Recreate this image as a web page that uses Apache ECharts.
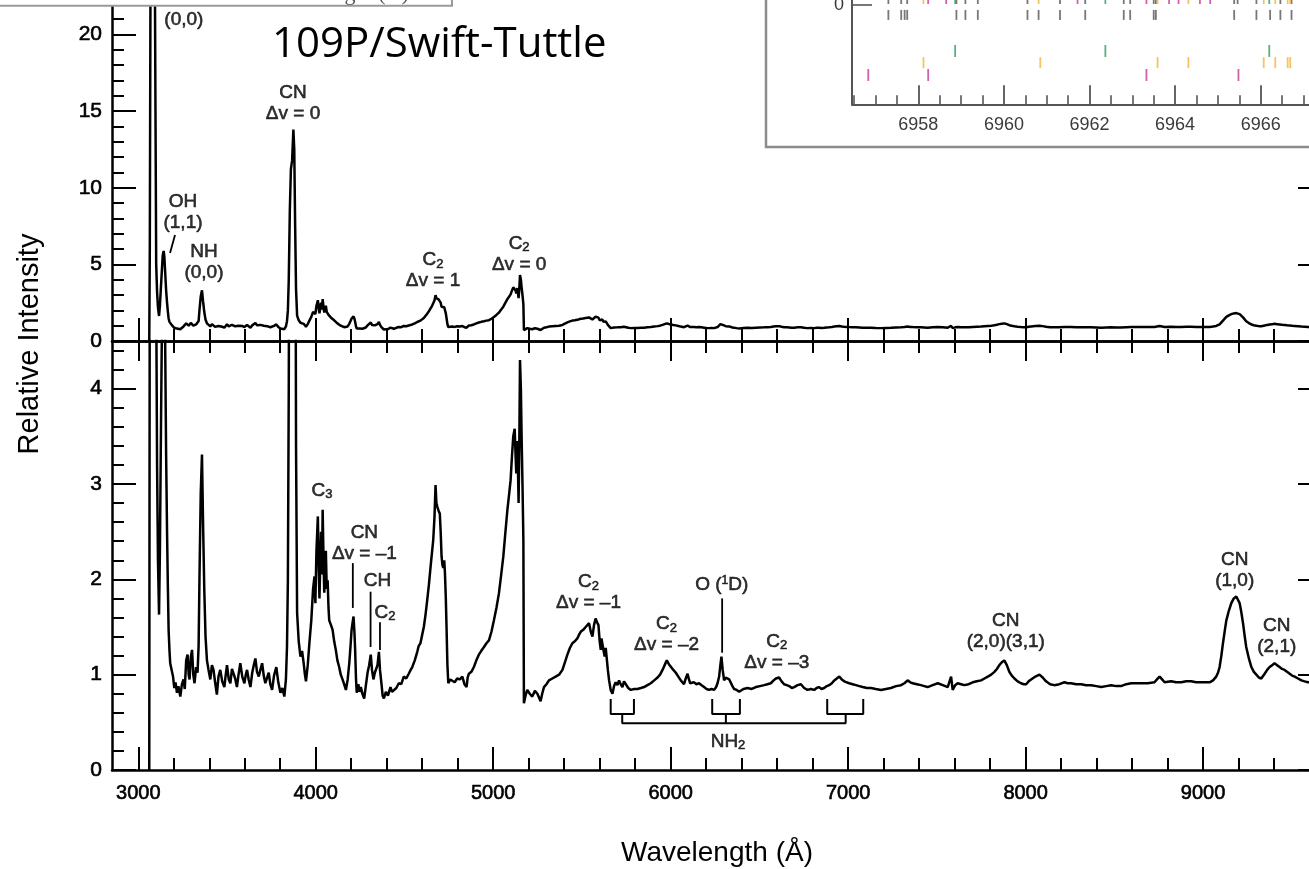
<!DOCTYPE html>
<html><head><meta charset="utf-8">
<script src="https://cdn.jsdelivr.net/npm/echarts@6/dist/echarts.min.js"></script>
<style>html,body{margin:0;padding:0;background:#fff}#c{width:1309px;height:869px}</style>
</head><body><div id="c"></div>
<script>
// ---------------- data ----------------
const spectrum = [[3062,0],[3065,6],[3069,24],[3076,33],[3084,30],[3092,28],[3097,15],[3101,5],[3106,3.2],[3111,2.2],[3117,1.63],[3122,2.3],[3128,3.6],[3133,4.6],[3138,5.6],[3143,5.87],[3147,5.5],[3152,4.4],[3157,3.3],[3162,2.52],[3167,1.9],[3171,1.47],[3176,1.25],[3180,1.12],[3188,1.05],[3196,0.98],[3203,0.86],[3210,0.92],[3218,0.81],[3226,0.88],[3237,0.77],[3246,0.9],[3255,0.95],[3262,0.85],[3270,1.15],[3278,1.21],[3284,1.0],[3289,0.95],[3296,1.18],[3303,1.26],[3310,1.0],[3317,0.91],[3326,1.08],[3334,1.02],[3340,1.3],[3345,2.03],[3352,2.9],[3359,3.31],[3365,2.6],[3372,1.89],[3379,1.4],[3387,1.15],[3396,1.05],[3406,0.95],[3415,1.1],[3424,1.05],[3433,0.92],[3443,0.79],[3452,0.98],[3462,1.05],[3473,0.93],[3485,0.87],[3493,1.0],[3500,1.1],[3510,0.95],[3519,0.91],[3528,1.06],[3537,1.08],[3546,0.96],[3556,0.87],[3565,1.0],[3575,1.12],[3586,0.98],[3598,0.91],[3606,1.0],[3613,1.05],[3622,0.95],[3632,0.87],[3642,1.02],[3651,1.1],[3660,1.17],[3669,1.03],[3679,0.98],[3688,1.05],[3698,1.12],[3707,0.99],[3716,0.91],[3726,0.97],[3735,1.02],[3744,0.9],[3754,0.84],[3765,0.99],[3778,1.08],[3789,0.92],[3801,0.81],[3812,0.86],[3823,0.77],[3832,0.95],[3838,1.29],[3843,1.98],[3848,4.0],[3854,8.5],[3860,11.2],[3867,11.8],[3874,13.8],[3879,12.5],[3884,7.5],[3889,3.4],[3895,1.65],[3904,1.35],[3914,1.19],[3923,1.25],[3932,1.12],[3939,1.0],[3945,0.93],[3955,1.1],[3965,1.35],[3975,1.57],[3985,1.9],[3993,2.03],[3998,1.75],[4004,2.3],[4012,2.66],[4017,2.1],[4021,1.8],[4026,2.2],[4030,2.5],[4035,2.05],[4039,2.73],[4044,2.2],[4048,1.86],[4053,2.05],[4057,2.3],[4062,1.9],[4067,1.99],[4072,1.7],[4076,1.57],[4086,1.52],[4095,1.47],[4104,1.35],[4113,1.26],[4122,1.15],[4132,1.08],[4141,1.0],[4151,0.95],[4160,0.9],[4170,0.84],[4180,0.95],[4189,1.12],[4196,1.3],[4202,1.47],[4208,1.55],[4213,1.61],[4218,1.45],[4222,1.26],[4227,0.95],[4231,0.81],[4240,0.9],[4247,0.82],[4254,0.87],[4263,0.8],[4273,0.75],[4282,0.88],[4292,1.02],[4301,1.1],[4310,1.21],[4317,1.05],[4325,0.95],[4333,1.02],[4340,1.0],[4348,1.1],[4356,1.24],[4362,1.05],[4370,0.91],[4377,0.78],[4384,0.75],[4395,0.82],[4407,0.78],[4421,0.87],[4430,0.82],[4440,0.8],[4454,0.86],[4468,0.91],[4482,0.9],[4496,0.98],[4510,0.96],[4524,1.01],[4535,1.05],[4544,1.08],[4558,1.15],[4572,1.24],[4580,1.3],[4590,1.33],[4600,1.42],[4609,1.5],[4618,1.62],[4628,1.78],[4638,1.95],[4647,2.13],[4655,2.28],[4662,2.41],[4669,2.65],[4675,2.99],[4680,2.8],[4685,2.76],[4692,2.72],[4699,2.69],[4704,2.5],[4709,2.24],[4714,2.15],[4719,2.12],[4724,2.2],[4728,2.07],[4733,1.8],[4737,1.5],[4742,1.1],[4747,0.91],[4758,0.95],[4769,0.94],[4783,0.92],[4797,0.96],[4812,0.95],[4826,0.98],[4838,0.9],[4850,0.87],[4856,0.97],[4863,1.01],[4877,1.03],[4891,1.08],[4905,1.15],[4919,1.21],[4933,1.25],[4948,1.29],[4962,1.33],[4976,1.36],[4990,1.45],[5004,1.57],[5018,1.7],[5032,1.85],[5045,2.05],[5057,2.24],[5069,2.5],[5080,2.73],[5090,2.9],[5098,3.04],[5106,3.3],[5113,3.5],[5121,3.58],[5126,3.3],[5130,3.11],[5136,3.45],[5140,3.1],[5143,2.8],[5147,3.4],[5151,4.3],[5156,4.0],[5160,3.5],[5165,3.0],[5170,2.41],[5173,0.7],[5182,0.78],[5192,0.84],[5206,0.8],[5220,0.77],[5235,0.83],[5249,0.8],[5258,0.76],[5267,0.72],[5276,0.8],[5286,0.87],[5300,0.9],[5314,0.94],[5333,0.96],[5352,0.98],[5371,1.0],[5390,1.05],[5404,1.13],[5418,1.21],[5432,1.28],[5446,1.33],[5460,1.35],[5474,1.38],[5484,1.42],[5493,1.45],[5507,1.47],[5521,1.5],[5530,1.48],[5540,1.54],[5550,1.45],[5559,1.4],[5568,1.52],[5577,1.59],[5585,1.55],[5593,1.52],[5600,1.35],[5606,1.26],[5610,1.38],[5615,1.4],[5622,1.25],[5628,1.19],[5634,1.28],[5640,1.26],[5646,1.05],[5653,0.94],[5662,0.84],[5672,0.8],[5681,0.88],[5690,0.92],[5700,0.89],[5709,0.94],[5718,0.9],[5728,0.87],[5737,0.93],[5747,0.92],[5761,0.86],[5775,0.84],[5794,0.85],[5813,0.85],[5832,0.86],[5850,0.87],[5869,0.89],[5888,0.91],[5907,0.94],[5926,0.97],[5940,1.0],[5954,1.05],[5966,1.1],[5978,1.15],[5990,1.11],[6000,1.09],[6015,1.05],[6029,1.02],[6043,0.98],[6057,0.94],[6066,0.92],[6075,0.9],[6085,0.96],[6095,1.01],[6103,0.95],[6110,0.91],[6120,0.93],[6131,0.92],[6145,0.9],[6160,0.91],[6174,0.89],[6188,0.87],[6202,0.85],[6216,0.84],[6230,0.85],[6245,0.84],[6256,0.87],[6264,0.91],[6273,0.98],[6280,1.1],[6286,1.19],[6293,1.05],[6301,0.94],[6310,0.97],[6320,0.98],[6330,0.95],[6339,0.93],[6348,0.88],[6357,0.85],[6372,0.84],[6386,0.82],[6410,0.85],[6433,0.86],[6457,0.85],[6480,0.87],[6503,0.88],[6527,0.89],[6545,0.9],[6564,0.91],[6580,0.94],[6593,0.96],[6611,0.97],[6625,0.93],[6639,0.9],[6654,0.89],[6668,0.88],[6682,0.86],[6696,0.87],[6715,0.89],[6734,0.9],[6752,0.86],[6771,0.84],[6790,0.85],[6809,0.84],[6822,0.86],[6835,0.87],[6850,0.85],[6865,0.86],[6880,0.88],[6893,0.89],[6908,0.91],[6922,0.94],[6936,0.96],[6950,0.98],[6964,0.95],[6978,0.93],[6992,0.92],[7006,0.91],[7025,0.9],[7044,0.89],[7063,0.88],[7082,0.87],[7105,0.86],[7128,0.86],[7156,0.85],[7185,0.84],[7213,0.85],[7241,0.86],[7270,0.88],[7298,0.89],[7317,0.91],[7335,0.94],[7350,0.92],[7364,0.91],[7387,0.9],[7410,0.89],[7429,0.88],[7448,0.87],[7476,0.89],[7505,0.91],[7533,0.89],[7561,0.87],[7572,0.88],[7580,0.98],[7589,0.84],[7603,0.89],[7617,0.91],[7636,0.9],[7655,0.89],[7679,0.9],[7702,0.92],[7725,0.93],[7749,0.94],[7768,0.96],[7787,0.98],[7806,1.0],[7824,1.03],[7838,1.06],[7852,1.1],[7866,1.13],[7880,1.15],[7894,1.1],[7908,1.03],[7922,0.99],[7937,0.96],[7955,0.93],[7974,0.91],[7989,0.9],[8003,0.9],[8017,0.93],[8031,0.95],[8055,0.98],[8078,1.0],[8096,0.97],[8115,0.93],[8138,0.9],[8162,0.89],[8190,0.9],[8219,0.92],[8237,0.91],[8256,0.91],[8285,0.9],[8313,0.9],[8341,0.89],[8369,0.89],[8398,0.88],[8426,0.87],[8454,0.88],[8482,0.89],[8510,0.88],[8538,0.88],[8567,0.9],[8595,0.91],[8623,0.91],[8651,0.91],[8688,0.91],[8726,0.92],[8740,0.95],[8755,0.98],[8769,0.95],[8783,0.92],[8820,0.93],[8848,0.92],[8877,0.92],[8905,0.93],[8933,0.93],[8961,0.92],[8990,0.92],[9013,0.92],[9037,0.92],[9056,0.94],[9074,0.98],[9084,1.02],[9093,1.08],[9103,1.2],[9112,1.33],[9122,1.46],[9131,1.57],[9145,1.67],[9159,1.75],[9173,1.8],[9187,1.82],[9196,1.8],[9206,1.75],[9215,1.66],[9225,1.54],[9234,1.41],[9243,1.29],[9258,1.17],[9272,1.08],[9286,1.03],[9300,1.0],[9314,0.97],[9328,0.96],[9347,1.01],[9361,1.05],[9375,1.08],[9389,1.1],[9403,1.12],[9417,1.1],[9431,1.08],[9445,1.06],[9459,1.05],[9473,1.03],[9488,1.01],[9502,0.99],[9516,0.98],[9535,0.96],[9554,0.94],[9572,0.93],[9591,0.92],[9620,0.92],[9650,0.91],[9680,0.91]];

const wavelengthTicks = [3000, 4000, 5000, 6000, 7000, 8000, 9000];

// annotations: [wavelength, intensity, text]
const topAnnotations = [
  [3257, 21.62, 'OH\n(0,0)'],
  [3252, 8.38, 'OH\n(1,1)'],
  [3370, 5.12, 'NH\n(0,0)'],
  [3872, 15.49, 'CN\nΔv = 0'],
  [4661, 4.60, 'C{s|2}\nΔv = 1'],
  [5146, 5.68, 'C{s|2}\nΔv = 0']
];
const bottomAnnotations = [
  [4035, 2.93, 'C{s|3}'],
  [4274, 2.38, 'CN\nΔv = –1'],
  [4348, 1.98, 'CH'],
  [4390, 1.65, 'C{s|2}'],
  [5537, 1.86, 'C{s|2}\nΔv = –1'],
  [5977, 1.42, 'C{s|2}\nΔv = –2'],
  [6288, 1.94, 'O ({p|1}D)'],
  [6598, 1.24, 'C{s|2}\nΔv = –3'],
  [7888, 1.46, 'CN\n(2,0)(3,1)'],
  [9178, 2.09, 'CN\n(1,0)'],
  [9415, 1.40, 'CN\n(2,1)'],
  [6323, 0.30, 'NH{s|2}']
];
const topLeaders = [ [[3207, 6.91], [3179, 5.74]] ];
const bottomLeaders = [
  [[4209, 2.17], [4209, 1.70]],
  [[4309, 1.87], [4309, 1.29]],
  [[4362, 1.55], [4362, 1.26]],
  [[6290, 1.80], [6290, 1.23]]
];
const nh2Brackets = [
  [[5662, 0.745], [5662, 0.588], [5793, 0.588], [5793, 0.745]],
  [[6234, 0.745], [6234, 0.588], [6390, 0.588], [6390, 0.745]],
  [[6882, 0.745], [6882, 0.588], [7085, 0.588], [7085, 0.745]],
  [[5727, 0.588], [5727, 0.49], [6986, 0.49], [6986, 0.588]],
  [[6311, 0.588], [6311, 0.49]]
];

// inset (high-resolution line list)
const insetTickLabels = [6958, 6960, 6962, 6964, 6966, 6968];
const lineListDark = [6957.30, 6957.60, 6957.68, 6957.74, 6958.89, 6959.10, 6959.39, 6960.55, 6960.81, 6961.31, 6961.90, 6962.80, 6962.95, 6963.50, 6963.55, 6965.38, 6965.90, 6966.22, 6966.46, 6966.72];
const lineListGreen = [6958.86, 6962.37, 6966.20];
const lineListOrange = [6958.12, 6960.85, 6963.59, 6964.31, 6966.07, 6966.34, 6966.63, 6966.69];
const lineListMagenta = [6956.83, 6958.23, 6963.33, 6965.48];
const cutRowDark = [6957.30, 6957.60, 6957.74, 6958.89, 6959.10, 6959.39, 6960.55, 6961.31, 6961.90, 6962.80, 6962.95, 6963.50, 6963.55, 6965.38, 6965.46, 6965.90, 6966.46, 6966.72];
const cutRowColor = [[6958.12,'#f2b53a'],[6958.23,'#c2399c'],[6958.65,'#c2399c'],[6958.86,'#2f9d5c'],[6960.81,'#f2b53a'],[6961.72,'#c2399c'],[6962.37,'#2f9d5c'],[6963.33,'#c2399c'],[6963.59,'#f2b53a'],[6963.86,'#c2399c'],[6964.08,'#c2399c'],[6964.31,'#f2b53a'],[6964.58,'#c2399c'],[6964.82,'#c2399c'],[6966.07,'#f2b53a'],[6966.20,'#2f9d5c'],[6966.34,'#f2b53a'],[6966.63,'#f2b53a'],[6966.69,'#f2b53a']];

// ---------------- layout ----------------
const XMIN = 2852, XMAX = 9670;
const FONT = '"Liberation Sans", Arial, sans-serif';
const BLACK = '#000';
const minorTicks = [];
for (let v = 3200; v <= 9600; v += 200) if (v % 1000 !== 0) minorTicks.push(v);
const insetMinor = [];
for (let v = 6956.5; v <= 6968; v += 0.5) if (v % 2 !== 0) insetMinor.push(v);

const axLine = {color: BLACK, width: 2.5};
const tkStyle = {color: BLACK, width: 2};
const embolden = {textBorderColor: BLACK, textBorderWidth: 0.6};

function xAx(grid, pos, ticks, len, showLine, extra) {
  return Object.assign({
    type: 'value', gridIndex: grid, position: pos, min: XMIN, max: XMAX,
    axisLine: {show: showLine, onZero: false, lineStyle: axLine},
    axisTick: {show: true, inside: true, length: len, customValues: ticks, lineStyle: tkStyle},
    axisLabel: {show: false}, splitLine: {show: false}
  }, extra || {});
}
function yAx(grid, pos, max, interval, showLabels) {
  return {
    type: 'value', gridIndex: grid, position: pos, min: 0, max: max, interval: interval,
    axisLine: {show: true, onZero: false, lineStyle: axLine},
    axisTick: {show: true, inside: true, length: 24, lineStyle: tkStyle},
    minorTick: {show: true, splitNumber: 5, length: 12, lineStyle: tkStyle},
    axisLabel: Object.assign({show: showLabels, fontSize: 21, color: BLACK, fontFamily: FONT, margin: 10,
      formatter: v => (Math.abs(v / interval - Math.round(v / interval)) < 1e-6 ? String(v) : '')}, embolden),
    splitLine: {show: false}, minorSplitLine: {show: false}
  };
}

const labelRich = {
  s: Object.assign({fontSize: 13, lineHeight: 9, verticalAlign: 'bottom', fontFamily: FONT, color: BLACK}, embolden),
  p: Object.assign({fontSize: 12, lineHeight: 11, verticalAlign: 'top', fontFamily: FONT, color: BLACK}, embolden)
};
function annSeries(xi, yi, list) {
  return {
    type: 'scatter', xAxisIndex: xi, yAxisIndex: yi, symbolSize: 0, silent: true, z: 4,
    data: list.map(a => ({value: [a[0], a[1]], text: a[2]})),
    label: Object.assign({show: true, position: 'inside', formatter: p => p.data.text,
      fontSize: 19, lineHeight: 21, color: BLACK, fontFamily: FONT, rich: labelRich}, embolden)
  };
}
function polySeries(xi, yi, pts, w) {
  return {type: 'line', xAxisIndex: xi, yAxisIndex: yi, data: pts, symbol: 'none', silent: true,
    lineStyle: {color: BLACK, width: w}, clip: false, z: 3};
}
function tickSeries(list, color, yval, h) {
  return {type: 'scatter', xAxisIndex: 6, yAxisIndex: 4, symbol: 'rect', symbolSize: [1.8, h], z: 6, silent: true,
    itemStyle: {color: color}, data: list.map(v => [v, yval])};
}

const series = [
  {type: 'line', xAxisIndex: 0, yAxisIndex: 0, data: spectrum, symbol: 'none', clip: true,
    lineStyle: {color: BLACK, width: 2.5}, z: 2},
  {type: 'line', xAxisIndex: 4, yAxisIndex: 2, data: spectrum, symbol: 'none', clip: true,
    lineStyle: {color: BLACK, width: 2.5}, z: 2},
  annSeries(0, 0, topAnnotations),
  annSeries(4, 2, bottomAnnotations)
];
topLeaders.forEach(l => series.push(polySeries(0, 0, l, 1.8)));
bottomLeaders.forEach(l => series.push(polySeries(4, 2, l, 1.8)));
nh2Brackets.forEach(l => series.push(polySeries(4, 2, l, 2)));
series.push(tickSeries(lineListDark, '#555', -1.0, 10));
series.push(tickSeries(lineListGreen, '#2f9d5c', -4.63, 12));
series.push(tickSeries(lineListOrange, '#f2b53a', -5.81, 11));
series.push(tickSeries(lineListMagenta, '#c2399c', -7.05, 12));
series.push(tickSeries(cutRowDark, '#555', 0.3, 4));
cutRowColor.forEach(c => series.push(tickSeries([c[0]], c[1], 0.3, 4)));

const option = {
  animation: false,
  backgroundColor: '#fff',
  grid: [
    {left: 112, top: -10, width: 1210, height: 351, outerBoundsMode: 'none', containLabel: false},
    {left: 112, top: 341, width: 1210, height: 429, outerBoundsMode: 'none', containLabel: false},
    {left: 852, top: 0, width: 494.3, height: 104.3, outerBoundsMode: 'none', containLabel: false}
  ],
  xAxis: [
    xAx(0, 'bottom', minorTicks, 12, true),
    xAx(0, 'bottom', wavelengthTicks, 23, false),
    xAx(1, 'top', minorTicks, 12, true),
    xAx(1, 'top', wavelengthTicks, 20, false),
    xAx(1, 'bottom', minorTicks, 12, true),
    xAx(1, 'bottom', wavelengthTicks, 23, false, {
      axisLabel: Object.assign({show: true, customValues: wavelengthTicks, fontSize: 20, color: BLACK, fontFamily: FONT, margin: 13,
        formatter: v => String(v)}, embolden),
      name: 'Wavelength (Å)', nameLocation: 'middle', nameGap: 69,
      nameTextStyle: {fontSize: 28, color: BLACK, fontFamily: FONT}
    }),
    {type: 'value', gridIndex: 2, position: 'bottom', min: 6956.45, max: 6968, z: 6,
      axisLine: {show: true, onZero: false, lineStyle: {color: '#555', width: 2}},
      axisTick: {show: true, inside: true, length: 9, customValues: insetMinor, lineStyle: {color: '#555', width: 1.6}},
      axisLabel: {show: false}, splitLine: {show: false}},
    {type: 'value', gridIndex: 2, position: 'bottom', min: 6956.45, max: 6968, z: 6,
      axisLine: {show: false, onZero: false},
      axisTick: {show: true, inside: true, length: 19, customValues: insetTickLabels, lineStyle: {color: '#555', width: 1.8}},
      axisLabel: {show: true, customValues: insetTickLabels, fontSize: 18, color: '#3a3a3a', fontFamily: FONT, margin: 12,
        formatter: v => String(v)},
      splitLine: {show: false}}
  ],
  yAxis: [
    yAx(0, 'left', 22.9, 5, true),
    yAx(0, 'right', 22.9, 5, false),
    yAx(1, 'left', 4.5, 1, true),
    yAx(1, 'right', 4.5, 1, false),
    {type: 'value', gridIndex: 2, position: 'left', min: -10, max: 0.5, z: 6,
      axisLine: {show: true, onZero: false, lineStyle: {color: '#555', width: 2}},
      axisTick: {show: true, inside: true, length: 20, customValues: [0], lineStyle: {color: '#555', width: 1.6}},
      axisLabel: {show: true, customValues: [0], fontSize: 18, color: '#3a3a3a', fontFamily: FONT, margin: 8,
        formatter: v => String(v)},
      splitLine: {show: false}}
  ],
  series: series,
  graphic: [
    {type: 'rect', z: 1, shape: {x: 766, y: -20, width: 620, height: 167},
      style: {fill: '#fff', stroke: '#8c8c8c', lineWidth: 2.5}},
    {type: 'rect', z: 10, shape: {x: -10, y: -60, width: 462, height: 65.7},
      style: {fill: '#fff', stroke: '#9a9a9a', lineWidth: 2}},
    {type: 'text', z: 11, x: 340, y: 5,
      style: {text: 'wavelength (Å)', font: '22px "Liberation Serif", serif', fill: '#555', align: 'center', verticalAlign: 'bottom'}},
    {type: 'text', z: 11, x: 272, y: 45,
      style: {text: '109P/Swift-Tuttle', font: '42px "Open Sans", sans-serif', fill: '#000', align: 'left', verticalAlign: 'middle'}},
    {type: 'text', z: 11, x: 30, y: 344, rotation: Math.PI / 2,
      style: {text: 'Relative Intensity', font: '29px ' + FONT, fill: '#000', align: 'center', verticalAlign: 'middle'}}
  ]
};
const chart = echarts.init(document.getElementById('c'), null, {renderer: 'canvas'});
chart.setOption(option);
</script>
</body></html>
